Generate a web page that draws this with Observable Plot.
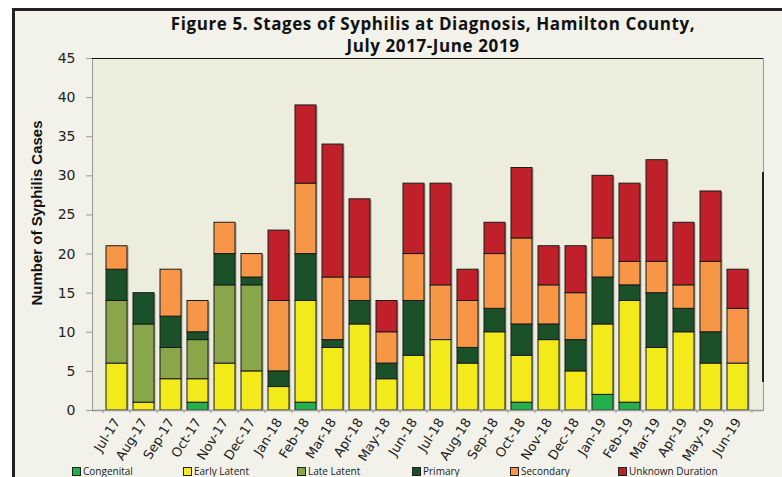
<!DOCTYPE html>
<html><head><meta charset="utf-8">
<script src="https://cdn.jsdelivr.net/npm/d3@7"></script>
<script src="https://cdn.jsdelivr.net/npm/@observablehq/plot@0.6"></script>
<style>
body{margin:0;background:#fff;}
#wrap{position:relative;width:782px;height:477px;overflow:hidden;background:#fff;}
#frame{position:absolute;left:12px;top:8px;width:800px;height:520px;border-left:3px solid #222;border-top:3px solid #222;background:#F2F2EA;box-sizing:border-box;}
#chart{position:absolute;left:0;top:0;}
#title{position:absolute;left:90px;width:686px;top:13px;text-align:center;font:bold 17px "Open Sans",sans-serif;letter-spacing:0.6px;line-height:22px;color:#111;}
#ylab{position:absolute;left:36px;top:213px;transform:translate(-50%,-50%) rotate(-90deg);white-space:nowrap;font:bold 15px "Liberation Sans Narrow",sans-serif;color:#111;}
.leg{position:absolute;top:464px;font:10px "Open Sans",sans-serif;color:#222;white-space:nowrap;line-height:14px;}
.leg span{display:inline-block;width:7px;height:7px;border:1px solid #222;margin-right:2px;vertical-align:-1px;}
#artifact{position:absolute;left:762px;top:172px;width:2px;height:210px;background:#222;}
</style></head>
<body>
<div id="wrap">
  <div id="frame"></div>
  <div id="chart"></div>
  <div id="artifact"></div>
  <div id="title">Figure 5. Stages of Syphilis at Diagnosis, Hamilton County,<br>July 2017-June 2019</div>
  <div id="ylab">Number of Syphilis Cases</div>
  <div id="legend"></div>
</div>
<script>
const months = ["Jul-17","Aug-17","Sep-17","Oct-17","Nov-17","Dec-17","Jan-18","Feb-18","Mar-18","Apr-18","May-18","Jun-18","Jul-18","Aug-18","Sep-18","Oct-18","Nov-18","Dec-18","Jan-19","Feb-19","Mar-19","Apr-19","May-19","Jun-19"];
const stages = ["Congenital","Early Latent","Late Latent","Primary","Secondary","Unknown Duration"];
const stageColors = ["#21B04B","#F2EA1A","#8AA64B","#1A5128","#F79646","#C0202A"];
const congenital  = [0,0,0,1,0,0,0,1,0,0,0,0,0,0,0,1,0,0,2,1,0,0,0,0];
const earlyLatent = [6,1,4,3,6,5,3,13,8,11,4,7,9,6,10,6,9,5,9,13,8,10,6,6];
const lateLatent  = [8,10,4,5,10,11,0,0,0,0,0,0,0,0,0,0,0,0,0,0,0,0,0,0];
const primary     = [4,4,4,1,4,1,2,6,1,3,2,7,0,2,3,4,2,4,6,2,7,3,4,0];
const secondary   = [3,0,6,4,4,3,9,9,8,3,4,6,7,6,7,11,5,6,5,3,4,3,9,7];
const unknown     = [0,0,0,0,0,0,9,10,17,10,4,9,13,4,4,9,5,6,8,10,13,8,9,5];
const yTicks = [0,5,10,15,20,25,30,35,40,45];

const series = [congenital, earlyLatent, lateLatent, primary, secondary, unknown];
const data = [];
months.forEach((m, i) => stages.forEach((s, j) => {
  if (series[j][i] > 0) data.push({month: m, stage: s, value: series[j][i]});
}));

const W = 782, H = 477, mL = 92, mR = 19, mT = 58, mB = 67;
const step = (W - mL - mR) / months.length;

const chart = Plot.plot({
  width: W, height: H,
  marginLeft: mL, marginRight: mR, marginTop: mT, marginBottom: mB,
  style: {background: "transparent", fontFamily: "DejaVu Sans", color: "#222", overflow: "visible"},
  x: {domain: months, paddingInner: 0.21, paddingOuter: 0.105, label: null},
  y: {domain: [0, 45], label: null},
  color: {domain: stages, range: stageColors},
  marks: [
    Plot.frame({fill: "#ECEDDD", stroke: "#999"}),
    Plot.ruleY([45], {stroke: "#111", strokeWidth: 1.2}),
    Plot.barY(data, Plot.groupX({y: "sum"}, {x: "month", y: "value", fill: "#777", fillOpacity: 0.6, dx: 1.5, dy: 1})),
    Plot.barY(data, {x: "month", y: "value", fill: "stage", order: stages, stroke: "#1b1b1b", strokeWidth: 1}),
    Plot.ruleY([0], {stroke: "#999", strokeWidth: 1.5}),
    Plot.ruleX(months, {x: d => d, dx: -step / 2, y1: 0, y2: -0.4, stroke: "#999"}),
    Plot.ruleX(months.slice(-1), {x: d => d, dx: step / 2, y1: 0, y2: -0.4, stroke: "#999"}),
    Plot.axisY({ticks: yTicks, tickSize: 6, tickPadding: 11, fontSize: 14, stroke: "#999", fill: "#222", label: null}),
    Plot.axisX({tickSize: 0, tickPadding: 9, tickRotate: -58, fontSize: 13, fill: "#222", label: null})
  ]
});
document.getElementById("chart").appendChild(chart);

const legX = [72, 183, 297, 412, 510, 618];
const leg = document.getElementById("legend");
stages.forEach((s, i) => {
  const d = document.createElement("div");
  d.className = "leg";
  d.style.left = legX[i] + "px";
  d.innerHTML = `<span style="background:${stageColors[i]}"></span>${s}`;
  leg.appendChild(d);
});
</script>
</body></html>
